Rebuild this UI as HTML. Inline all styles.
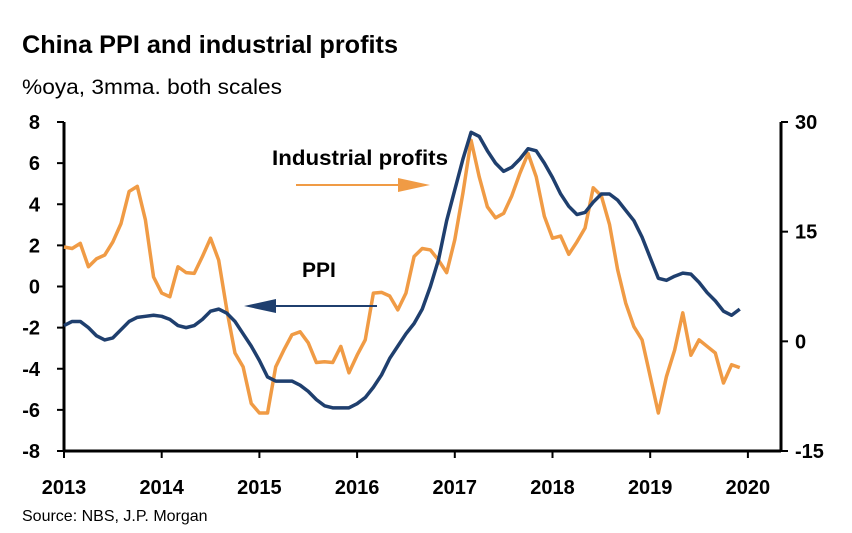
<!DOCTYPE html>
<html><head><meta charset="utf-8"><style>
body{margin:0;background:#fff;}
svg{display:block;font-family:"Liberation Sans",Arial,sans-serif;}
</style></head><body>
<svg id="chart" width="852" height="533" viewBox="0 0 852 533" xmlns="http://www.w3.org/2000/svg">
<text x="22" y="53" font-size="25" font-weight="bold" fill="#000" textLength="376" lengthAdjust="spacingAndGlyphs">China PPI and industrial profits</text>
<text x="22" y="94" font-size="21" fill="#000" textLength="260" lengthAdjust="spacingAndGlyphs">%oya, 3mma. both scales</text>
<text x="22" y="521" font-size="16" fill="#000">Source: NBS, J.P. Morgan</text>
<g id="axes"></g>
<g id="series"></g>
<text x="272" y="165" font-size="21" font-weight="bold" fill="#000" textLength="176" lengthAdjust="spacingAndGlyphs">Industrial profits</text>
<line x1="296" y1="185" x2="410" y2="185" stroke="#F09B45" stroke-width="2"/>
<polygon points="430,185 398,178 398,192" fill="#F09B45"/>
<text x="302" y="277" font-size="21" font-weight="bold" fill="#000">PPI</text>
<line x1="377" y1="306" x2="262" y2="306" stroke="#1F3F6E" stroke-width="2"/>
<polygon points="244,306 276,299 276,313" fill="#1F3F6E"/>
</svg>
<script>
const years=["2013","2014","2015","2016","2017","2018","2019","2020"];
const leftTicks=[8,6,4,2,0,-2,-4,-6,-8];
const rightTicks=[30,15,0,-15];
const ppi=[-1.9,-1.7,-1.7,-2.0,-2.4,-2.6,-2.5,-2.1,-1.7,-1.5,-1.45,-1.4,
-1.45,-1.6,-1.9,-2.0,-1.9,-1.6,-1.2,-1.1,-1.3,-1.7,-2.3,-2.9,
-3.6,-4.4,-4.6,-4.6,-4.6,-4.8,-5.1,-5.5,-5.8,-5.9,-5.9,-5.9,
-5.7,-5.4,-4.9,-4.3,-3.5,-2.9,-2.3,-1.8,-1.1,0.0,1.3,3.2,
4.7,6.2,7.5,7.3,6.6,6.0,5.6,5.8,6.2,6.7,6.6,6.0,
5.3,4.5,3.9,3.5,3.6,4.1,4.5,4.5,4.2,3.7,3.2,2.4,
1.4,0.4,0.3,0.5,0.65,0.6,0.2,-0.3,-0.7,-1.2,-1.4,-1.1];
const profits=[12.9,12.7,13.4,10.2,11.3,11.8,13.6,16.1,20.5,21.2,16.6,8.8,
6.6,6.1,10.2,9.4,9.3,11.6,14.1,11.1,4.3,-1.6,-3.5,-8.5,
-9.8,-9.8,-3.5,-1.2,0.9,1.3,-0.2,-2.9,-2.8,-2.9,-0.7,-4.3,
-1.9,0.2,6.6,6.7,6.2,4.3,6.6,11.6,12.7,12.5,11.1,9.4,
13.9,20.3,27.5,22.5,18.4,16.9,17.5,19.9,23.0,25.7,22.5,17.1,
14.1,14.4,11.9,13.6,15.5,21.0,19.9,16.0,9.8,5.2,2.0,0.2,
-4.8,-9.8,-4.8,-1.2,3.9,-1.9,0.2,-0.7,-1.6,-5.7,-3.2,-3.6];
const NS="http://www.w3.org/2000/svg";
const X0=64,X1=781,YT=122,YB=451,YEARW=97.7;
const xm=m=>X0+YEARW*m/12;
const yl=v=>YT+(8-v)*(YB-YT)/16;
const yr=v=>YT+(30-v)*(YB-YT)/45;
function mk(tag,attrs,parent){const e=document.createElementNS(NS,tag);for(const k in attrs)e.setAttribute(k,attrs[k]);parent.appendChild(e);return e;}
const ax=document.getElementById('axes');
let e;
e=mk('line',{x1:X0,y1:YT,x2:X0,y2:YB,stroke:'#000','stroke-width':3},ax);


e=mk('line',{x1:X1,y1:YT,x2:X1,y2:YB,stroke:'#000','stroke-width':3},ax);


e=mk('line',{x1:X0,y1:YB,x2:X1,y2:YB,stroke:'#000','stroke-width':3},ax);


leftTicks.forEach(v=>{
 mk('line',{x1:X0-7,y1:yl(v),x2:X0,y2:yl(v),stroke:'#000','stroke-width':2},ax);
 e=mk('text',{x:40,y:yl(v)+7,'font-size':20,'font-weight':'bold','text-anchor':'end'},ax);
 e.textContent=v;
 
 
});
rightTicks.forEach(v=>{
 mk('line',{x1:X1,y1:yr(v),x2:X1+7,y2:yr(v),stroke:'#000','stroke-width':2},ax);
 e=mk('text',{x:795,y:yr(v)+7,'font-size':20,'font-weight':'bold'},ax);
 e.textContent=v;
 
 
});
years.forEach((y,i)=>{
 const x=xm(i*12);
 mk('line',{x1:x,y1:YB,x2:x,y2:YB+7,stroke:'#000','stroke-width':2},ax);
 e=mk('text',{x:x,y:494,'font-size':20,'font-weight':'bold','text-anchor':'middle'},ax);
 e.textContent=y;
 
 
});
const sg=document.getElementById('series');
e=mk('polyline',{points:profits.map((v,i)=>xm(i)+','+yr(v)).join(' '),fill:'none',stroke:'#F09B45','stroke-width':3.5,'stroke-linejoin':'round'},sg);


e=mk('polyline',{points:ppi.map((v,i)=>xm(i)+','+yl(v)).join(' '),fill:'none',stroke:'#1F3F6E','stroke-width':3.5,'stroke-linejoin':'round'},sg);


</script>
</body></html>
